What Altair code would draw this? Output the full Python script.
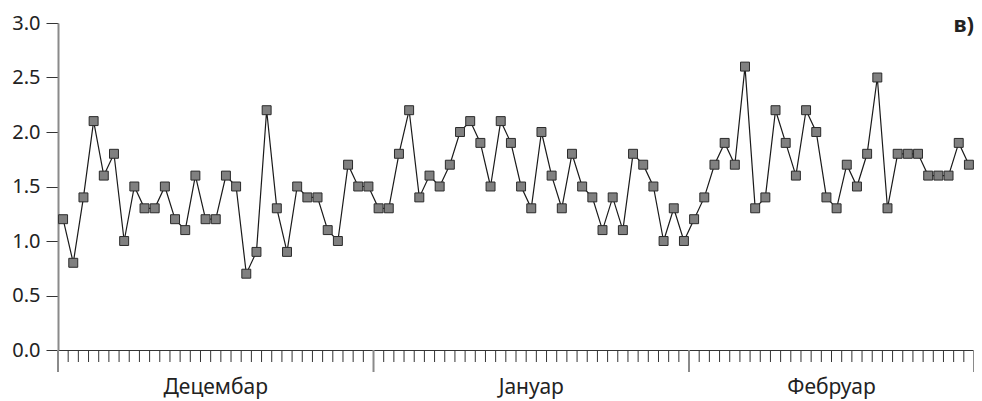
import altair as alt
import pandas as pd

dec = [1.2, 0.8, 1.4, 2.1, 1.6, 1.8, 1.0, 1.5, 1.3, 1.3, 1.5, 1.2, 1.1, 1.6, 1.2, 1.2,
       1.6, 1.5, 0.7, 0.9, 2.2, 1.3, 0.9, 1.5, 1.4, 1.4, 1.1, 1.0, 1.7, 1.5, 1.5]
jan = [1.3, 1.3, 1.8, 2.2, 1.4, 1.6, 1.5, 1.7, 2.0, 2.1, 1.9, 1.5, 2.1, 1.9, 1.5, 1.3,
       2.0, 1.6, 1.3, 1.8, 1.5, 1.4, 1.1, 1.4, 1.1, 1.8, 1.7, 1.5, 1.0, 1.3, 1.0]
feb = [1.2, 1.4, 1.7, 1.9, 1.7, 2.6, 1.3, 1.4, 2.2, 1.9, 1.6, 2.2, 2.0, 1.4, 1.3, 1.7,
       1.5, 1.8, 2.5, 1.3, 1.8, 1.8, 1.8, 1.6, 1.6, 1.6, 1.9, 1.7]
months = ["Децембар", "Јануар", "Фебруар"]
month_lengths = [len(dec), len(jan), len(feb)]
y_ticks = [0.0, 0.5, 1.0, 1.5, 2.0, 2.5, 3.0]
panel_label = "в)"

values = dec + jan + feb
n = len(values)
df = pd.DataFrame({"day": list(range(n)), "value": values})
tdf = pd.DataFrame({"t": list(range(n + 1))})

bounds = [0]
for m in month_lengths:
    bounds.append(bounds[-1] + m)
bdf = pd.DataFrame({"b": bounds})
mdf = pd.DataFrame({
    "month": months,
    "center": [(bounds[i] + bounds[i + 1]) / 2 for i in range(len(months))],
})

W, H = 916, 327
FONT = "Noto Sans"

xscale = alt.Scale(domain=[0, n], nice=False, zero=False)
yscale = alt.Scale(domain=[0, 3], nice=False)

xaxis = alt.Axis(ticks=False, labels=False, title=None, grid=False,
                 domainColor="#333333", domainWidth=1)
yaxis = alt.Axis(values=y_ticks, format=".1f", title=None, grid=False,
                 tickSize=12, tickColor="#333333", domainColor="#8a8a8a",
                 domainWidth=2, labelFontSize=20, labelFont=FONT,
                 labelColor="#222222", labelPadding=6)

base = alt.Chart(df).transform_calculate(xc="datum.day + 0.5")

line = base.mark_line(color="#1a1a1a", strokeWidth=1.2).encode(
    x=alt.X("xc:Q", scale=xscale, axis=xaxis),
    y=alt.Y("value:Q", scale=yscale, axis=yaxis),
)
pts = base.mark_point(shape="square", size=80, filled=True, fill="#808080",
                      stroke="#2a2a2a", strokeWidth=1, opacity=1).encode(
    x=alt.X("xc:Q", scale=xscale),
    y=alt.Y("value:Q", scale=yscale),
)
minor = alt.Chart(tdf).mark_rule(color="#333333", strokeWidth=1).encode(
    x=alt.X("t:Q", scale=xscale),
    y=alt.value(H),
    y2=alt.value(H + 12),
)
major = alt.Chart(bdf).mark_rule(color="#8a8a8a", strokeWidth=2).encode(
    x=alt.X("b:Q", scale=xscale),
    y=alt.value(H),
    y2=alt.value(H + 22),
)
mlabels = alt.Chart(mdf).mark_text(font=FONT, fontSize=21, color="#222222",
                                   baseline="alphabetic", align="center").encode(
    x=alt.X("center:Q", scale=xscale),
    y=alt.value(H + 44),
    text="month:N",
)
plabel = alt.Chart(pd.DataFrame({"t": [panel_label]})).mark_text(
    font=FONT, fontSize=22, fontWeight="bold", color="#222222",
    align="right", baseline="alphabetic").encode(
    x=alt.value(W), y=alt.value(9), text="t:N")

chart = alt.layer(line, minor, major, pts, mlabels, plabel).properties(
    width=W, height=H,
    autosize=alt.AutoSizeParams(type="none"),
    padding={"left": 50, "top": 15, "right": 0, "bottom": 50},
).configure_view(stroke=None).configure_axis(labelFont=FONT)

chart.save("out.html", embed_options={"renderer": "svg", "actions": False})
